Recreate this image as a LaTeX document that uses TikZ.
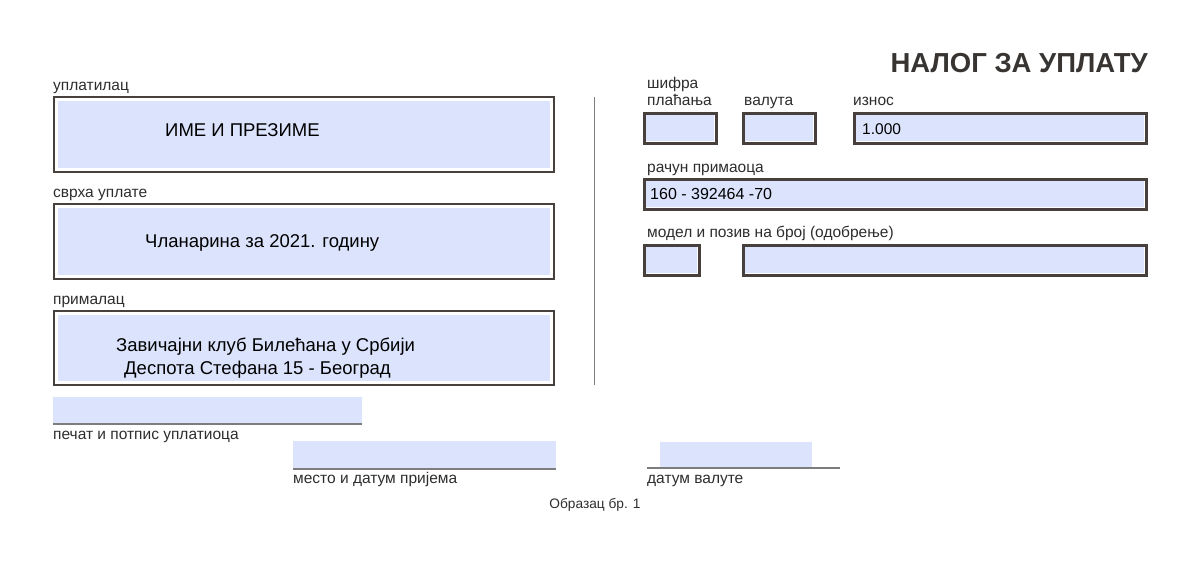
\documentclass[tikz,border=0pt]{standalone}
\usepackage{fontspec}
\setmainfont{Liberation Sans}
\definecolor{fieldblue}{RGB}{220,227,252}
\definecolor{framegray}{RGB}{72,64,60}
\definecolor{rulegray}{RGB}{125,125,125}
\definecolor{labelgray}{RGB}{45,45,45}
\definecolor{titlegray}{RGB}{55,52,50}
\begin{document}
\begin{tikzpicture}[x=1pt,y=-1pt,
    lbl/.style={anchor=base west,inner sep=0pt,text=labelgray,font=\fontsize{15.5}{16}\selectfont},
    entry/.style={anchor=base west,inner sep=0pt,font=\fontsize{18.5}{19}\selectfont},
    thinframe/.style={draw=framegray,line width=1.5pt},
    thickframe/.style={draw=framegray,line width=3pt},
    field/.style={fill=fieldblue}]
  \useasboundingbox (0,0) rectangle (1196,560);
  \node[anchor=base east,inner sep=0pt,text=titlegray,font=\bfseries\fontsize{27.5}{28}\selectfont] (title) at (1148,72) {НАЛОГ ЗА УПЛАТУ};

  \node[lbl] (payerlbl) at (53,90) {уплатилац};
  \draw[thinframe] (53.8,96.8) rectangle (554.2,172.2);
  \fill[field] (58,101) rectangle (550,168);
  \node[entry] (payer) at (165,136.5) {ИМЕ И ПРЕЗИМЕ};

  \node[lbl] (purposelbl) at (53,197) {сврха уплате};
  \draw[thinframe] (53.8,203.8) rectangle (554.2,279.2);
  \fill[field] (58,208) rectangle (550,275);
  \node[entry] (purpose) at (145,247) {Чланарина за 2021. годину};

  \node[lbl] (payeelbl) at (53,304) {прималац};
  \draw[thinframe] (53.8,310.8) rectangle (554.2,385.2);
  \fill[field] (58,315) rectangle (550,381);
  \node[entry] (payee) at (116,351) {Завичајни клуб Билећана у Србији};
  \node[entry] (address) at (124,374) {Деспота Стефана 15 - Београд};

  \draw[rulegray,line width=1pt] (594,97) -- (594,385);

  \fill[field] (53,397) rectangle (362,423);
  \draw[rulegray,line width=1.2pt] (53,424) -- (362,424);
  \node[lbl] (signlbl) at (53,439) {печат и потпис уплатиоца};

  \fill[field] (293,441) rectangle (556,468);
  \draw[rulegray,line width=1.2pt] (293,469) -- (556,469);
  \node[lbl] (placelbl) at (293,483) {место и датум пријема};

  \fill[field] (660,442) rectangle (812,467);
  \draw[rulegray,line width=1.2pt] (647,468) -- (840,468);
  \node[lbl] (datelbl) at (647,483) {датум валуте};

  \node[anchor=base,inner sep=0pt,text=labelgray,font=\fontsize{13.7}{14}\selectfont] (formno) at (595,508) {Образац бр. 1};

  \node[lbl] (codelbl) at (647,88) {шифра};
  \node[lbl] (codelbl2) at (647,105) {плаћања};
  \node[lbl] (currlbl) at (744,105) {валута};
  \node[lbl] (amountlbl) at (853,105) {износ};

  \fill[white] (645,114) rectangle (716,143);
  \fill[field] (645,114) rectangle (714,141);
  \draw[thickframe] (644.5,113.5) rectangle (716.5,143.5);
  \fill[white] (744,114) rectangle (815,143);
  \fill[field] (744,114) rectangle (813,141);
  \draw[thickframe] (743.5,113.5) rectangle (815.5,143.5);
  \fill[white] (855,114) rectangle (1146,143);
  \fill[field] (855,114) rectangle (1144,141);
  \draw[thickframe] (854.5,113.5) rectangle (1146.5,143.5);
  \node[entry,font=\fontsize{15.5}{16}\selectfont] (amount) at (862,134) {1.000};

  \node[lbl] (accountlbl) at (647,172) {рачун примаоца};
  \fill[white] (645,180) rectangle (1146,209);
  \fill[field] (645,180) rectangle (1144,207);
  \draw[thickframe] (644.5,179.5) rectangle (1146.5,209.5);
  \node[entry,font=\fontsize{16}{16}\selectfont] (account) at (650,199.5) {160 - 392464 -70};

  \node[lbl] (reflbl) at (647,237) {модел и позив на број (одобрење)};
  \fill[white] (645,246) rectangle (699,275);
  \fill[field] (645,246) rectangle (697,273);
  \draw[thickframe] (644.5,245.5) rectangle (699.5,275.5);
  \fill[white] (744,246) rectangle (1146,275);
  \fill[field] (744,246) rectangle (1144,273);
  \draw[thickframe] (743.5,245.5) rectangle (1146.5,275.5);
\end{tikzpicture}
\end{document}
